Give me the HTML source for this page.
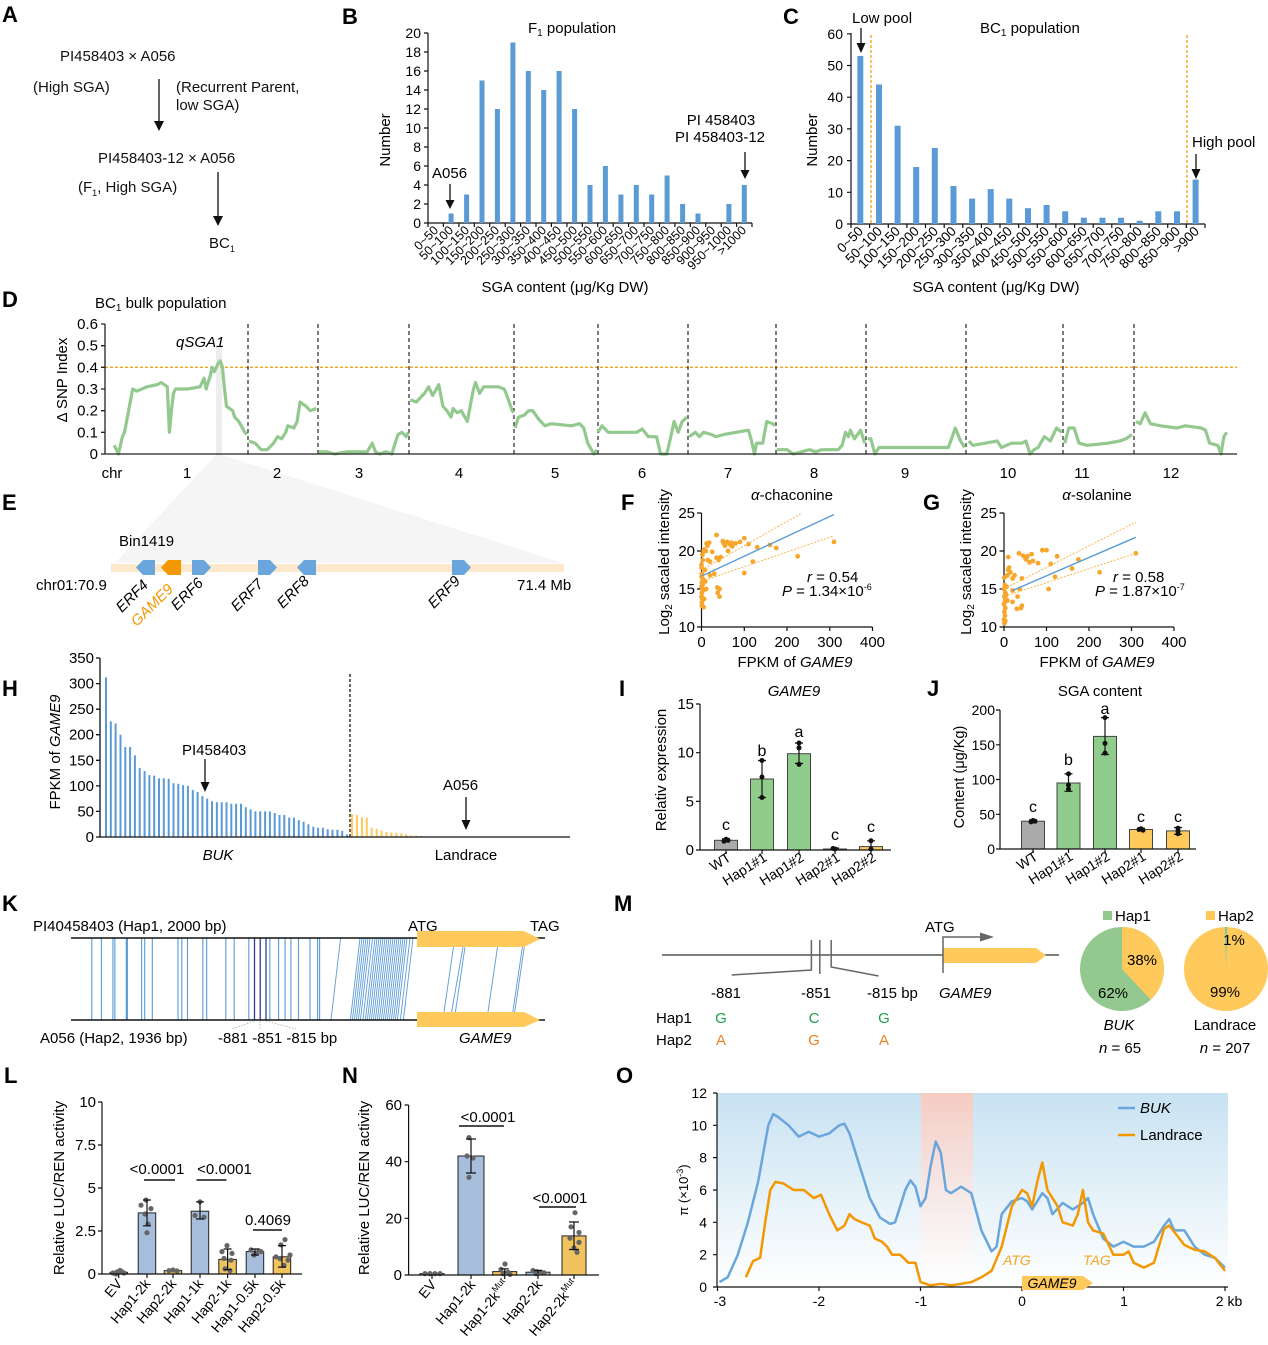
<!DOCTYPE html>
<html><head><meta charset="utf-8"><style>
html,body{margin:0;padding:0;background:#fff;}
svg{display:block;font-family:"Liberation Sans",Arial,sans-serif;}
.b{font-weight:bold;font-size:22px;}
.t{font-size:15px;}
.s{font-size:14px;}
.x{font-size:12.5px;}
.i{font-style:italic;}
</style></head><body>
<svg width="1268" height="1345" viewBox="0 0 1268 1345" xmlns="http://www.w3.org/2000/svg">
<defs>
<linearGradient id="gb" x1="0" y1="0" x2="0" y2="1"><stop offset="0" stop-color="#c8e2f2"/><stop offset="1" stop-color="#ffffff"/></linearGradient>
<linearGradient id="gp" x1="0" y1="0" x2="0" y2="1"><stop offset="0" stop-color="#f6cbc2"/><stop offset="1" stop-color="#ffffff" stop-opacity="0.6"/></linearGradient>
</defs>
<rect width="1268" height="1345" fill="#fff"/>

<!-- Panel letters -->
<g class="b">
<text x="2" y="22">A</text><text x="342" y="24">B</text><text x="783" y="24">C</text>
<text x="2" y="307">D</text><text x="2" y="510">E</text><text x="621" y="510">F</text><text x="923" y="510">G</text>
<text x="2" y="696">H</text><text x="619" y="696">I</text><text x="927" y="696">J</text>
<text x="2" y="911">K</text><text x="614" y="911">M</text>
<text x="4" y="1083">L</text><text x="342" y="1083">N</text><text x="616" y="1083">O</text>
</g>

<!-- Panel A -->
<g class="t" fill="#111">
<text x="60" y="61">PI458403 × A056</text>
<text x="33" y="92">(High SGA)</text>
<text x="176" y="92">(Recurrent Parent,</text>
<text x="176" y="110">low SGA)</text>
<text x="98" y="163">PI458403-12 × A056</text>
<text x="78" y="192">(F<tspan font-size="9" dy="4">1</tspan><tspan dy="-4">, High SGA)</tspan></text>
<text x="209" y="248">BC<tspan font-size="9" dy="4">1</tspan></text>
</g>
<g stroke="#111" stroke-width="1.3"><line x1="159" y1="79" x2="159" y2="124"/><line x1="218" y1="172" x2="218" y2="219"/></g>
<g fill="#111"><polygon points="154,121 164,121 159,131"/><polygon points="213,216 223,216 218,226"/></g>

<!-- Panel B -->
<text x="528" y="33" class="t">F<tspan font-size="10" dy="3">1</tspan><tspan dy="-3"> population</tspan></text>
<g stroke="#111" stroke-width="1.2" fill="none">
<line x1="428" y1="33" x2="428" y2="223"/><line x1="428" y1="223" x2="752" y2="223"/>
<path d="M424 223H428M424 204H428M424 185H428M424 166H428M424 147H428M424 128H428M424 109H428M424 90H428M424 71H428M424 52H428M424 33H428"/>
<path d="M428 223V227M443.4 223V227M458.9 223V227M474.3 223V227M489.7 223V227M505.2 223V227M520.6 223V227M536 223V227M551.4 223V227M566.9 223V227M582.3 223V227M597.7 223V227M613.2 223V227M628.6 223V227M644 223V227M659.5 223V227M674.9 223V227M690.3 223V227M705.7 223V227M721.2 223V227M736.6 223V227M752 223V227"/>
</g>
<g class="s" text-anchor="end"><text x="421" y="228">0</text><text x="421" y="209">2</text><text x="421" y="190">4</text><text x="421" y="171">6</text><text x="421" y="152">8</text><text x="421" y="133">10</text><text x="421" y="114">12</text><text x="421" y="95">14</text><text x="421" y="76">16</text><text x="421" y="57">18</text><text x="421" y="38">20</text></g>
<g fill="#5b9bd5">
<rect x="448.6" y="213.5" width="5" height="9.5"/><rect x="464.1" y="194.5" width="5" height="28.5"/><rect x="479.5" y="80.5" width="5" height="142.5"/><rect x="494.9" y="109" width="5" height="114"/><rect x="510.4" y="42.5" width="5" height="180.5"/><rect x="525.8" y="71" width="5" height="152"/><rect x="541.2" y="90" width="5" height="133"/><rect x="556.6" y="71" width="5" height="152"/><rect x="572.1" y="109" width="5" height="114"/><rect x="587.5" y="185" width="5" height="38"/><rect x="602.9" y="166" width="5" height="57"/><rect x="618.4" y="194.5" width="5" height="28.5"/><rect x="633.8" y="185" width="5" height="38"/><rect x="649.2" y="194.5" width="5" height="28.5"/><rect x="664.6" y="175.5" width="5" height="47.5"/><rect x="680.1" y="204" width="5" height="19"/><rect x="695.5" y="213.5" width="5" height="9.5"/><rect x="726.4" y="204" width="5" height="19"/><rect x="741.8" y="185" width="5" height="38"/>
</g>
<g class="x" text-anchor="end">
<text transform="translate(439,231) rotate(-45)">0~50</text>
<text transform="translate(454,231) rotate(-45)">50~100</text>
<text transform="translate(470,231) rotate(-45)">100~150</text>
<text transform="translate(485,231) rotate(-45)">150~200</text>
<text transform="translate(500,231) rotate(-45)">200~250</text>
<text transform="translate(516,231) rotate(-45)">250~300</text>
<text transform="translate(531,231) rotate(-45)">300~350</text>
<text transform="translate(547,231) rotate(-45)">350~400</text>
<text transform="translate(562,231) rotate(-45)">400~450</text>
<text transform="translate(578,231) rotate(-45)">450~500</text>
<text transform="translate(593,231) rotate(-45)">500~550</text>
<text transform="translate(608,231) rotate(-45)">550~600</text>
<text transform="translate(624,231) rotate(-45)">600~650</text>
<text transform="translate(639,231) rotate(-45)">650~700</text>
<text transform="translate(655,231) rotate(-45)">700~750</text>
<text transform="translate(670,231) rotate(-45)">750~800</text>
<text transform="translate(686,231) rotate(-45)">800~850</text>
<text transform="translate(701,231) rotate(-45)">850~900</text>
<text transform="translate(716,231) rotate(-45)">900~950</text>
<text transform="translate(732,231) rotate(-45)">950~1000</text>
<text transform="translate(747,231) rotate(-45)">&gt;1000</text>
</g>
<text transform="translate(390,140) rotate(-90)" text-anchor="middle" class="t">Number</text>
<text x="565" y="292" text-anchor="middle" class="t">SGA content (μg/Kg DW)</text>
<text x="432" y="178" class="t">A056</text>
<line x1="450" y1="184" x2="450" y2="203" stroke="#111" stroke-width="1.3"/><polygon points="445.5,200 454.5,200 450,209" fill="#111"/>
<text x="721" y="125" text-anchor="middle" class="t">PI 458403</text>
<text x="720" y="142" text-anchor="middle" class="t">PI 458403-12</text>
<line x1="745" y1="152" x2="745" y2="173" stroke="#111" stroke-width="1.3"/><polygon points="740.5,170 749.5,170 745,179" fill="#111"/>

<!-- Panel C -->
<text x="852" y="23" class="t">Low pool</text>
<line x1="861" y1="28" x2="861" y2="45" stroke="#111" stroke-width="1.3"/><polygon points="856.5,43 865.5,43 861,53" fill="#111"/>
<text x="980" y="33" class="t">BC<tspan font-size="10" dy="3">1</tspan><tspan dy="-3"> population</tspan></text>
<text x="1192" y="147" class="t">High pool</text>
<line x1="1196" y1="154" x2="1196" y2="171" stroke="#111" stroke-width="1.3"/><polygon points="1191.5,169 1200.5,169 1196,179" fill="#111"/>
<g stroke="#f5a623" stroke-width="1.4" stroke-dasharray="3,2"><line x1="871" y1="35" x2="871" y2="224"/><line x1="1187" y1="35" x2="1187" y2="224"/></g>
<g stroke="#111" stroke-width="1.2" fill="none">
<line x1="851" y1="33" x2="851" y2="224"/><line x1="851" y1="224" x2="1205" y2="224"/>
<path d="M847 224H851M847 192.3H851M847 160.6H851M847 128.9H851M847 97.2H851M847 65.5H851M847 33.8H851"/>
<path d="M851 224V228M869.6 224V228M888.3 224V228M906.9 224V228M925.5 224V228M944.2 224V228M962.8 224V228M981.4 224V228M1000 224V228M1018.7 224V228M1037.3 224V228M1055.9 224V228M1074.6 224V228M1093.2 224V228M1111.8 224V228M1130.4 224V228M1149.1 224V228M1167.7 224V228M1186.3 224V228M1205 224V228"/>
</g>
<g class="s" text-anchor="end"><text x="843" y="229">0</text><text x="843" y="197.3">10</text><text x="843" y="165.6">20</text><text x="843" y="133.9">30</text><text x="843" y="102.2">40</text><text x="843" y="70.5">50</text><text x="843" y="38.8">60</text></g>
<g fill="#5b9bd5">
<rect x="857.3" y="56" width="6" height="168"/><rect x="876" y="84.5" width="6" height="139.5"/><rect x="894.6" y="125.7" width="6" height="98.3"/><rect x="913.2" y="167" width="6" height="57"/><rect x="931.8" y="148" width="6" height="76"/><rect x="950.5" y="186" width="6" height="38"/><rect x="969.1" y="198.6" width="6" height="25.4"/><rect x="987.7" y="189.1" width="6" height="34.9"/><rect x="1006.3" y="198.6" width="6" height="25.4"/><rect x="1025" y="208.2" width="6" height="15.8"/><rect x="1043.6" y="205" width="6" height="19"/><rect x="1062.2" y="211.3" width="6" height="12.7"/><rect x="1080.8" y="217.7" width="6" height="6.3"/><rect x="1099.5" y="217.7" width="6" height="6.3"/><rect x="1118.1" y="217.7" width="6" height="6.3"/><rect x="1136.7" y="220.8" width="6" height="3.2"/><rect x="1155.3" y="211.3" width="6" height="12.7"/><rect x="1174" y="211.3" width="6" height="12.7"/><rect x="1192.6" y="179.6" width="6" height="44.4"/>
</g>
<g font-size="13.5" text-anchor="end">
<text transform="translate(864,232) rotate(-45)">0~50</text>
<text transform="translate(883,232) rotate(-45)">50~100</text>
<text transform="translate(901,232) rotate(-45)">100~150</text>
<text transform="translate(920,232) rotate(-45)">150~200</text>
<text transform="translate(939,232) rotate(-45)">200~250</text>
<text transform="translate(957,232) rotate(-45)">250~300</text>
<text transform="translate(976,232) rotate(-45)">300~350</text>
<text transform="translate(994,232) rotate(-45)">350~400</text>
<text transform="translate(1013,232) rotate(-45)">400~450</text>
<text transform="translate(1032,232) rotate(-45)">450~500</text>
<text transform="translate(1050,232) rotate(-45)">500~550</text>
<text transform="translate(1069,232) rotate(-45)">550~600</text>
<text transform="translate(1088,232) rotate(-45)">600~650</text>
<text transform="translate(1106,232) rotate(-45)">650~700</text>
<text transform="translate(1125,232) rotate(-45)">700~750</text>
<text transform="translate(1143,232) rotate(-45)">750~800</text>
<text transform="translate(1162,232) rotate(-45)">800~850</text>
<text transform="translate(1181,232) rotate(-45)">850~900</text>
<text transform="translate(1200,232) rotate(-45)">&gt;900</text>
</g>
<text transform="translate(817,140) rotate(-90)" text-anchor="middle" class="t">Number</text>
<text x="996" y="292" text-anchor="middle" class="t">SGA content (μg/Kg DW)</text>

<!-- Panel D -->
<polygon points="216,455 222,455 563,563 115,563" fill="#f5f5f5"/>
<rect x="216" y="346" width="6" height="109" fill="#eeeeee"/>
<text x="95" y="308" class="t">BC<tspan font-size="10" dy="3">1</tspan><tspan dy="-3"> bulk population</tspan></text>
<text x="176" y="347" class="t i">qSGA1</text>
<text transform="translate(67,380) rotate(-90)" text-anchor="middle" class="t">Δ SNP Index</text>
<line x1="105" y1="367.3" x2="1237" y2="367.3" stroke="#f5a31a" stroke-width="1.3" stroke-dasharray="3,2"/>
<g stroke="#111" stroke-width="1.1" stroke-dasharray="4,3">
<line x1="248" y1="324" x2="248" y2="454"/><line x1="318" y1="324" x2="318" y2="454"/><line x1="409" y1="324" x2="409" y2="454"/><line x1="514" y1="324" x2="514" y2="454"/><line x1="598" y1="324" x2="598" y2="454"/><line x1="688" y1="324" x2="688" y2="454"/><line x1="776" y1="324" x2="776" y2="454"/><line x1="866" y1="324" x2="866" y2="454"/><line x1="966" y1="324" x2="966" y2="454"/><line x1="1063" y1="324" x2="1063" y2="454"/><line x1="1134" y1="324" x2="1134" y2="454"/>
</g>
<g fill="none" stroke="#93c98e" stroke-width="3.2" stroke-linejoin="round">
<polyline points="114.3,445.3 118.4,454 122.4,436.7 124.5,432.3 128.6,410.7 132.7,389 136.7,391.2 146.9,386.8 157.1,384.7 161.2,382.5 167.3,386.8 169.4,432.3 171.4,410.7 173.5,393.3 175.5,389 187.8,389 200,386.8 204.1,378.2 206.1,389 210.2,376 212.2,367.3 214.3,371.7 218.4,363 220.4,360.8 222.4,367.3 224.5,389 226.5,406.3 232.7,410.7 234.7,417.2 238.8,421.5 244.9,432.3 246.9,434.5"/>
<polyline points="249,441 255.1,443.2 261.2,449.7 267.3,449.7 273.5,443.2 277.6,436.7 281.6,438.8 285.7,432.3 287.8,425.8 293.9,428 297.1,421.5 300,402 306.1,406.3 310.2,410.7 316.3,408.5"/>
<polyline points="318.4,451.8 326.5,451.8 334.7,454 346.9,451.8 367.3,451.8 372.2,443.2 375.5,451.8 379.6,454 385.7,451.8 391.8,454 395.1,443.2 398,434.5 402,432.3 406.1,436.7 408.2,432.3"/>
<polyline points="410.2,399.8 416.3,402 420.4,397.7 424.5,393.3 428.6,386.8 432.7,395.5 438.8,384.7 442.9,406.3 446.9,410.7 451,417.2 453.1,408.5 457.1,412.8 461.2,410.7 467.3,421.5 471.4,399.8 473.5,389 475.5,382.5 479.6,393.3 483.7,386.8 498,386.8 504.1,389 506.1,393.3 512.2,410.7 513.5,412.8"/>
<polyline points="515.1,428 518.4,417.2 524.5,415 528.6,410.7 532.7,410.7 538.8,419.3 544.9,425.8 551,423.7 571.4,425.8 579.6,423.7 583.7,428 587.8,443.2 593.9,454 596.7,449.7"/>
<polyline points="598,432.3 602,425.8 608.2,432.3 636.7,432.3 642.2,429 648.4,436.7 656.5,436.7 660.6,454 666.7,454 670.8,436.7 674.1,421.5 678.2,432.3 682.2,421.5 687.1,417.2"/>
<polyline points="689.2,436.7 695.3,432.3 699.4,436.7 703.5,432.3 711.6,434.5 715.7,436.7 723.9,434.5 736.1,432.3 748.4,430.2 751.6,441 754.5,454 756.5,443.2 762.7,443.2 766.7,421.5 772.9,423.7 774.9,425.8"/>
<polyline points="776.9,449.7 787.1,449.7 793.3,454 801.4,451.8 809.6,449.7 815.7,451.8 821.8,449.7 838.2,449.7 842.2,445.3 845.5,432.3 848.4,436.7 850.4,430.2 854.5,438.8 860.6,430.2 864.7,443.2"/>
<polyline points="867.6,438.8 870.8,438.8 874.9,454 879,447.5 915.7,447.5 948.4,447.5 955.3,428 960.6,441 964.7,447.5"/>
<polyline points="968.8,441 972.9,445.3 985.1,443.2 997.3,441 1001.4,447.5 1011.6,443.2 1021.8,443.2 1025.9,441 1030,454 1034.1,449.7 1038.2,447.5 1044.3,436.7 1050.4,441 1056.5,428 1061.8,432.3"/>
<polyline points="1064.7,443.2 1068.8,428 1074.1,428 1079,443.2 1087.1,445.3 1107.6,443.2 1119.8,441 1125.9,438.8 1132,434.5"/>
<polyline points="1136.1,421.5 1140.2,423.7 1145.1,412.8 1150.4,423.7 1160.6,425.8 1176.9,428 1185.1,425.8 1201.4,428 1205.5,430.2 1209.6,443.2 1217.8,445.3 1221,454 1223.9,436.7 1226.7,432.3"/>
</g>
<g stroke="#222" stroke-width="1.3" fill="none">
<line x1="105" y1="324" x2="105" y2="454"/><line x1="105" y1="454" x2="1237" y2="454"/>
<path d="M101 454H105M101 432.3H105M101 410.7H105M101 389H105M101 367.3H105M101 345.7H105M101 324H105"/>
</g>
<g class="t" text-anchor="end"><text x="98" y="459">0</text><text x="98" y="437.3">0.1</text><text x="98" y="415.7">0.2</text><text x="98" y="394">0.3</text><text x="98" y="372.3">0.4</text><text x="98" y="350.7">0.5</text><text x="98" y="329">0.6</text></g>
<g class="t" text-anchor="middle">
<text x="112" y="478">chr</text><text x="187" y="478">1</text><text x="277" y="478">2</text><text x="359" y="478">3</text><text x="459" y="478">4</text><text x="555" y="478">5</text><text x="642" y="478">6</text><text x="728" y="478">7</text><text x="814" y="478">8</text><text x="905" y="478">9</text><text x="1008" y="478">10</text><text x="1082" y="478">11</text><text x="1171" y="478">12</text>
</g>

<!-- Panel E -->
<text x="119" y="546" class="t">Bin1419</text>
<rect x="111" y="564" width="453" height="8" fill="#fde8cb"/>
<g fill="#6aa6dc">
<polygon points="136,567.5 143,560 155,560 155,575 143,575"/>
<polygon points="192,560 204,560 211,567.5 204,575 192,575"/>
<polygon points="258,560 270,560 277,567.5 270,575 258,575"/>
<polygon points="297,567.5 304,560 316,560 316,575 304,575"/>
<polygon points="452,560 464,560 471,567.5 464,575 452,575"/>
</g>
<polygon points="161,567.5 168,560 181,560 181,575 168,575" fill="#f39800"/>
<text x="36" y="590" class="t">chr01:70.9</text>
<text x="517" y="590" class="t">71.4 Mb</text>
<g class="t i" text-anchor="end" font-size="16">
<text transform="translate(149,586) rotate(-45)">ERF4</text>
<text transform="translate(174,590) rotate(-45)" fill="#f39800">GAME9</text>
<text transform="translate(204,584) rotate(-45)">ERF6</text>
<text transform="translate(264,585) rotate(-45)">ERF7</text>
<text transform="translate(310,582) rotate(-45)">ERF8</text>
<text transform="translate(461,582) rotate(-45)">ERF9</text>
</g>

<!-- Panel F -->
<text x="792" y="500" text-anchor="middle" class="t"><tspan class="i">α</tspan>-chaconine</text>
<text transform="translate(669,562) rotate(-90)" text-anchor="middle" class="t">Log<tspan font-size="10" dy="3">2</tspan><tspan dy="-3"> sacaled intensity</tspan></text>
<text x="795" y="667" text-anchor="middle" class="t">FPKM of <tspan class="i">GAME9</tspan></text>
<g stroke="#111" stroke-width="1.2" fill="none">
<line x1="701.5" y1="513" x2="701.5" y2="627"/><line x1="701.5" y1="627" x2="872.5" y2="627"/>
<path d="M697 627H701.5M697 589H701.5M697 551H701.5M697 513H701.5M701.5 627V631M744.3 627V631M787 627V631M829.8 627V631M872.5 627V631"/>
</g>
<g class="t" text-anchor="end"><text x="695" y="632">10</text><text x="695" y="594">15</text><text x="695" y="556">20</text><text x="695" y="518">25</text></g>
<g class="t" text-anchor="middle"><text x="701.5" y="647">0</text><text x="744.3" y="647">100</text><text x="787" y="647">200</text><text x="829.8" y="647">300</text><text x="872.5" y="647">400</text></g>
<g fill="#f8a62b">
<circle cx="701.9" cy="605.7" r="2.4"/><circle cx="701.9" cy="602.7" r="2.4"/><circle cx="702.4" cy="599.6" r="2.4"/><circle cx="701.5" cy="596.6" r="2.4"/><circle cx="701.9" cy="592.8" r="2.4"/><circle cx="702.4" cy="589" r="2.4"/><circle cx="701.5" cy="586.7" r="2.4"/><circle cx="702.8" cy="584.4" r="2.4"/><circle cx="701.9" cy="582.9" r="2.4"/><circle cx="702.4" cy="581.4" r="2.4"/><circle cx="703.2" cy="579.1" r="2.4"/><circle cx="701.5" cy="576.8" r="2.4"/><circle cx="701.9" cy="573.8" r="2.4"/><circle cx="701.5" cy="564.7" r="2.4"/><circle cx="702.8" cy="560.1" r="2.4"/><circle cx="702.4" cy="554.8" r="2.4"/><circle cx="703.6" cy="551" r="2.4"/><circle cx="704.5" cy="549.5" r="2.4"/><circle cx="705.8" cy="551" r="2.4"/><circle cx="706.6" cy="543.4" r="2.4"/><circle cx="707.5" cy="545.7" r="2.4"/><circle cx="704.9" cy="570" r="2.4"/><circle cx="705.3" cy="581.4" r="2.4"/><circle cx="706.2" cy="589" r="2.4"/><circle cx="704.1" cy="589.8" r="2.4"/><circle cx="704.1" cy="598.9" r="2.4"/><circle cx="707.9" cy="560.1" r="2.4"/><circle cx="710" cy="561.6" r="2.4"/><circle cx="709.2" cy="542.6" r="2.4"/><circle cx="712.2" cy="551.8" r="2.4"/><circle cx="714.3" cy="573.8" r="2.4"/><circle cx="716.5" cy="535" r="2.4"/><circle cx="716.5" cy="557.8" r="2.4"/><circle cx="717.3" cy="587.5" r="2.4"/><circle cx="717.7" cy="592.8" r="2.4"/><circle cx="718.6" cy="560.1" r="2.4"/><circle cx="719.5" cy="589" r="2.4"/><circle cx="719.5" cy="596.6" r="2.4"/><circle cx="720.7" cy="557.1" r="2.4"/><circle cx="722.9" cy="541.1" r="2.4"/><circle cx="723.7" cy="543.4" r="2.4"/><circle cx="725" cy="545.7" r="2.4"/><circle cx="727.2" cy="541.9" r="2.4"/><circle cx="728" cy="551" r="2.4"/><circle cx="729.3" cy="543.4" r="2.4"/><circle cx="730.6" cy="544.9" r="2.4"/><circle cx="731.4" cy="542.6" r="2.4"/><circle cx="732.3" cy="546.4" r="2.4"/><circle cx="735.7" cy="543.4" r="2.4"/><circle cx="740" cy="541.9" r="2.4"/><circle cx="744.3" cy="538.1" r="2.4"/><circle cx="744.3" cy="573" r="2.4"/><circle cx="748.5" cy="544.2" r="2.4"/><circle cx="752.8" cy="561.6" r="2.4"/><circle cx="757.1" cy="547.2" r="2.4"/><circle cx="769.9" cy="544.9" r="2.4"/><circle cx="776.3" cy="548" r="2.4"/><circle cx="797.7" cy="556.3" r="2.4"/><circle cx="834" cy="541.9" r="2.4"/><circle cx="703.6" cy="607.2" r="2.4"/><circle cx="701.5" cy="567.7" r="2.4"/><circle cx="710" cy="575.3" r="2.4"/>
</g>
<g stroke="#f8b44a" stroke-width="1" stroke-dasharray="2,1.5"><line x1="701.5" y1="570" x2="802" y2="513"/><line x1="701.5" y1="581.4" x2="834" y2="535.8"/></g>
<line x1="701.5" y1="576.1" x2="834" y2="514.5" stroke="#5b9bd5" stroke-width="1.4"/>
<text x="807" y="582" class="t"><tspan class="i">r</tspan> = 0.54</text>
<text x="782" y="596" class="t"><tspan class="i">P</tspan> = 1.34×10<tspan font-size="9" dy="-6">-6</tspan></text>

<!-- Panel G -->
<text x="1097" y="500" text-anchor="middle" class="t"><tspan class="i">α</tspan>-solanine</text>
<text transform="translate(971,562) rotate(-90)" text-anchor="middle" class="t">Log<tspan font-size="10" dy="3">2</tspan><tspan dy="-3"> sacaled intensity</tspan></text>
<text x="1097" y="667" text-anchor="middle" class="t">FPKM of <tspan class="i">GAME9</tspan></text>
<g stroke="#111" stroke-width="1.2" fill="none">
<line x1="1004" y1="513" x2="1004" y2="627"/><line x1="1004" y1="627" x2="1174" y2="627"/>
<path d="M999.5 627H1004M999.5 589H1004M999.5 551H1004M999.5 513H1004M1004 627V631M1046.5 627V631M1089 627V631M1131.5 627V631M1174 627V631"/>
</g>
<g class="t" text-anchor="end"><text x="997" y="632">10</text><text x="997" y="594">15</text><text x="997" y="556">20</text><text x="997" y="518">25</text></g>
<g class="t" text-anchor="middle"><text x="1004" y="647">0</text><text x="1046.5" y="647">100</text><text x="1089" y="647">200</text><text x="1131.5" y="647">300</text><text x="1174" y="647">400</text></g>
<g fill="#f8a62b">
<circle cx="1004.4" cy="623.2" r="2.4"/><circle cx="1004" cy="619.4" r="2.4"/><circle cx="1004.9" cy="615.6" r="2.4"/><circle cx="1004.4" cy="611.8" r="2.4"/><circle cx="1005.3" cy="608" r="2.4"/><circle cx="1004" cy="604.2" r="2.4"/><circle cx="1004.9" cy="601.9" r="2.4"/><circle cx="1005.7" cy="599.6" r="2.4"/><circle cx="1004.4" cy="596.6" r="2.4"/><circle cx="1005.3" cy="592.8" r="2.4"/><circle cx="1004" cy="589" r="2.4"/><circle cx="1004.9" cy="585.2" r="2.4"/><circle cx="1004.4" cy="577.6" r="2.4"/><circle cx="1008.3" cy="570" r="2.4"/><circle cx="1008.3" cy="557.1" r="2.4"/><circle cx="1009.1" cy="567.7" r="2.4"/><circle cx="1007.4" cy="575.3" r="2.4"/><circle cx="1007.4" cy="600.4" r="2.4"/><circle cx="1010.4" cy="572.3" r="2.4"/><circle cx="1012.5" cy="578.4" r="2.4"/><circle cx="1012.5" cy="590.5" r="2.4"/><circle cx="1012.5" cy="601.9" r="2.4"/><circle cx="1014.6" cy="575.3" r="2.4"/><circle cx="1016.8" cy="608.8" r="2.4"/><circle cx="1017.6" cy="596.6" r="2.4"/><circle cx="1018.9" cy="553.3" r="2.4"/><circle cx="1019.7" cy="589" r="2.4"/><circle cx="1021" cy="608" r="2.4"/><circle cx="1021.9" cy="605.7" r="2.4"/><circle cx="1021.9" cy="578.4" r="2.4"/><circle cx="1023.1" cy="555.6" r="2.4"/><circle cx="1025.3" cy="557.8" r="2.4"/><circle cx="1026.1" cy="559.4" r="2.4"/><circle cx="1027.4" cy="556.3" r="2.4"/><circle cx="1029.5" cy="562.4" r="2.4"/><circle cx="1031.6" cy="554.1" r="2.4"/><circle cx="1032.9" cy="560.9" r="2.4"/><circle cx="1038" cy="563.2" r="2.4"/><circle cx="1042.3" cy="550.2" r="2.4"/><circle cx="1046.5" cy="550.2" r="2.4"/><circle cx="1048.6" cy="589" r="2.4"/><circle cx="1050.8" cy="563.9" r="2.4"/><circle cx="1055" cy="576.8" r="2.4"/><circle cx="1057.1" cy="556.3" r="2.4"/><circle cx="1072" cy="568.5" r="2.4"/><circle cx="1078.4" cy="559.4" r="2.4"/><circle cx="1099.6" cy="572.3" r="2.4"/><circle cx="1135.8" cy="553.3" r="2.4"/><circle cx="1006.1" cy="595.1" r="2.4"/><circle cx="1006.6" cy="586.7" r="2.4"/><circle cx="1005.3" cy="620.9" r="2.4"/>
</g>
<g stroke="#f8b44a" stroke-width="1" stroke-dasharray="2,1.5"><line x1="1004" y1="589" x2="1135.8" y2="522.1"/><line x1="1004" y1="596.6" x2="1135.8" y2="553.3"/></g>
<line x1="1012.5" y1="590.5" x2="1135.8" y2="537.3" stroke="#5b9bd5" stroke-width="1.4"/>
<text x="1113" y="582" class="t"><tspan class="i">r</tspan> = 0.58</text>
<text x="1095" y="596" class="t"><tspan class="i">P</tspan> = 1.87×10<tspan font-size="9" dy="-6">-7</tspan></text>

<!-- Panel H -->
<text transform="translate(60,752) rotate(-90)" text-anchor="middle" class="t">FPKM of <tspan class="i">GAME9</tspan></text>
<path stroke="#5b9bd5" stroke-width="2" fill="none" d="M106 677.4V837M110.8 721.4V837M115.6 723.5V837M120.5 734.7V837M125.3 747V837M130.1 747V837M134.9 755.2V837M139.7 768V837M144.6 771V837M149.4 775.1V837M154.2 775.6V837M159 778.2V837M163.8 778.2V837M168.7 778.7V837M173.5 783.3V837M178.3 783.8V837M183.1 785.3V837M187.9 785.9V837M192.8 790V837M197.6 792V837M202.4 796.1V837M207.2 798.6V837M212 801.2V837M216.9 802.2V837M221.7 802.2V837M226.5 802.2V837M231.3 803.8V837M236.1 803.8V837M241 803.8V837M245.8 807.3V837M250.6 809.4V837M255.4 811.4V837M260.2 811.4V837M265.1 811.4V837M269.9 811.4V837M274.7 813V837M279.5 815V837M284.3 815V837M289.2 817.6V837M294 817.6V837M298.8 820.1V837M303.6 821.7V837M308.4 824.2V837M313.3 826.8V837M318.1 827.8V837M322.9 827.8V837M327.7 829.3V837M332.5 829.8V837M337.4 829.8V837M342.2 830.9V837M347 834.4V837"/>
<path stroke="#ffc95c" stroke-width="2" fill="none" d="M352 814V837M356.9 815V837M361.9 817.1V837M366.8 817.6V837M371.7 827.8V837M376.7 828.8V837M381.6 830.4V837M386.5 831.9V837M391.4 832.4V837M396.4 832.9V837M401.3 833.4V837M406.2 834.4V837M411.2 835.5V837M416.1 835.5V837M421 836V837"/>
<line x1="350" y1="674" x2="350" y2="837" stroke="#111" stroke-width="1.3" stroke-dasharray="3,2"/>
<g stroke="#111" stroke-width="1.3" fill="none">
<line x1="100" y1="658" x2="100" y2="837"/><line x1="100" y1="837" x2="570" y2="837"/>
<path d="M96 837H100M96 811.4H100M96 785.9H100M96 760.3H100M96 734.7H100M96 709.2H100M96 683.6H100M96 658H100"/>
</g>
<g class="t" text-anchor="end"><text x="94" y="842">0</text><text x="94" y="816.4">50</text><text x="94" y="790.9">100</text><text x="94" y="765.3">150</text><text x="94" y="739.7">200</text><text x="94" y="714.2">250</text><text x="94" y="688.6">300</text><text x="94" y="663">350</text></g>
<text x="182" y="755" class="t">PI458403</text>
<line x1="205" y1="759" x2="205" y2="784" stroke="#111" stroke-width="1.3"/><polygon points="200.5,782 209.5,782 205,792" fill="#111"/>
<text x="443" y="790" class="t">A056</text>
<line x1="466" y1="797" x2="466" y2="822" stroke="#111" stroke-width="1.3"/><polygon points="461.5,820 470.5,820 466,830" fill="#111"/>
<text x="218" y="860" text-anchor="middle" class="t i">BUK</text>
<text x="466" y="860" text-anchor="middle" class="t">Landrace</text>

<!-- Panel I -->
<text x="794" y="696" text-anchor="middle" class="t i">GAME9</text>
<text transform="translate(666,770) rotate(-90)" text-anchor="middle" class="t">Relativ expression</text>
<g stroke="#444" stroke-width="1">
<rect x="714.5" y="840.3" width="23" height="9.7" fill="#aaaaaa"/>
<rect x="750.5" y="779" width="23" height="71" fill="#90cd8c"/>
<rect x="787.5" y="753.7" width="23" height="96.3" fill="#90cd8c"/>
<rect x="823.5" y="849" width="23" height="1" fill="#ffc95c"/>
<rect x="859.5" y="846.6" width="23" height="3.4" fill="#ffc95c"/>
</g>
<g stroke="#111" stroke-width="1.2" fill="none">
<path d="M726 838.8V841.7M722 838.8H730M722 841.7H730"/>
<path d="M762 760.5V797.5M758 760.5H766M758 797.5H766"/>
<path d="M799 743V763.4M795 743H803M795 763.4H803"/>
<path d="M835 848V850M831 848H839"/>
<path d="M871 840.8V850M867 840.8H875"/>
<line x1="700" y1="704" x2="700" y2="850"/><line x1="700" y1="850" x2="891" y2="850"/>
<path d="M696 850H700M696 801.4H700M696 752.7H700M696 704H700M726 850V854M762 850V854M799 850V854M835 850V854M871 850V854"/>
</g>
<g fill="#111"><circle cx="726" cy="839.3" r="2.5"/><circle cx="724" cy="841.2" r="2.5"/><circle cx="728" cy="840.3" r="2.5"/><circle cx="762" cy="760.5" r="2.5"/><circle cx="762" cy="777" r="2.5"/><circle cx="762" cy="797.5" r="2.5"/><circle cx="799" cy="743" r="2.5"/><circle cx="799" cy="747.8" r="2.5"/><circle cx="799" cy="764.4" r="2.5"/><circle cx="835" cy="849" r="2.5"/><circle cx="833" cy="848.5" r="2.5"/><circle cx="871" cy="840.8" r="2.5"/><circle cx="871" cy="849" r="2.5"/></g>
<g class="t" text-anchor="end"><text x="694" y="855">0</text><text x="694" y="806.4">5</text><text x="694" y="757.7">10</text><text x="694" y="709">15</text></g>
<g font-size="16" text-anchor="middle"><text x="726" y="830">c</text><text x="762" y="756">b</text><text x="799" y="737">a</text><text x="835" y="840">c</text><text x="871" y="832">c</text></g>
<g class="s" text-anchor="end">
<text transform="translate(732,860) rotate(-32)">WT</text>
<text transform="translate(768,860) rotate(-32)">Hap1#1</text>
<text transform="translate(805,860) rotate(-32)">Hap1#2</text>
<text transform="translate(841,860) rotate(-32)">Hap2#1</text>
<text transform="translate(877,860) rotate(-32)">Hap2#2</text>
</g>

<!-- Panel J -->
<text x="1100" y="696" text-anchor="middle" class="t">SGA content</text>
<text transform="translate(964,777) rotate(-90)" text-anchor="middle" font-size="14.5">Content (μg/Kg)</text>
<g stroke="#444" stroke-width="1">
<rect x="1021.5" y="821.2" width="23" height="27.8" fill="#aaaaaa"/>
<rect x="1057" y="783" width="23" height="66" fill="#90cd8c"/>
<rect x="1093.5" y="736.4" width="23" height="112.6" fill="#90cd8c"/>
<rect x="1129.5" y="829.5" width="23" height="19.5" fill="#ffc95c"/>
<rect x="1166.5" y="830.9" width="23" height="18.1" fill="#ffc95c"/>
</g>
<g stroke="#111" stroke-width="1.2" fill="none">
<path d="M1033 819.8V822.6M1029 819.8H1037M1029 822.6H1037"/>
<path d="M1068.5 773.9V791.3M1064.5 773.9H1072.5M1064.5 791.3H1072.5"/>
<path d="M1105 717.6V754.5M1101 717.6H1109M1101 754.5H1109"/>
<path d="M1141 828.2V830.9M1137 828.2H1145M1137 830.9H1145"/>
<path d="M1178 827.5V834.4M1174 827.5H1182M1174 834.4H1182"/>
<line x1="1000" y1="710" x2="1000" y2="849"/><line x1="1000" y1="849" x2="1196" y2="849"/>
<path d="M996 849H1000M996 814.3H1000M996 779.5H1000M996 744.8H1000M996 710H1000M1033 849V853M1068.5 849V853M1105 849V853M1141 849V853M1178 849V853"/>
</g>
<g fill="#111"><circle cx="1033" cy="820.5" r="2.5"/><circle cx="1031" cy="821.9" r="2.5"/><circle cx="1035" cy="821.2" r="2.5"/><circle cx="1068.5" cy="773.9" r="2.5"/><circle cx="1068.5" cy="785" r="2.5"/><circle cx="1068.5" cy="789.2" r="2.5"/><circle cx="1105" cy="717.6" r="2.5"/><circle cx="1105" cy="743.4" r="2.5"/><circle cx="1105" cy="753.1" r="2.5"/><circle cx="1141" cy="828.8" r="2.5"/><circle cx="1139" cy="829.5" r="2.5"/><circle cx="1143" cy="830.2" r="2.5"/><circle cx="1178" cy="828.2" r="2.5"/><circle cx="1178" cy="830.9" r="2.5"/><circle cx="1178" cy="833.7" r="2.5"/></g>
<g class="s" text-anchor="end"><text x="995" y="854">0</text><text x="995" y="819.3">50</text><text x="995" y="784.5">100</text><text x="995" y="749.8">150</text><text x="995" y="715">200</text></g>
<g font-size="16" text-anchor="middle"><text x="1033" y="812">c</text><text x="1068.5" y="765">b</text><text x="1105" y="714">a</text><text x="1141" y="822">c</text><text x="1178" y="822">c</text></g>
<g class="s" text-anchor="end">
<text transform="translate(1039,859) rotate(-32)">WT</text>
<text transform="translate(1074,859) rotate(-32)">Hap1#1</text>
<text transform="translate(1111,859) rotate(-32)">Hap1#2</text>
<text transform="translate(1147,859) rotate(-32)">Hap2#1</text>
<text transform="translate(1184,859) rotate(-32)">Hap2#2</text>
</g>

<!-- Panel K -->
<text x="33" y="931" class="t">PI40458403 (Hap1, 2000 bp)</text>
<text x="408" y="931" class="t">ATG</text>
<text x="530" y="931" class="t">TAG</text>
<text x="40" y="1043" class="t">A056 (Hap2, 1936 bp)</text>
<text x="218" y="1043" class="t">-881 -851 -815 bp</text>
<text x="459" y="1043" class="t i">GAME9</text>
<g stroke="#5b9bd5" stroke-width="1.1">
<path d="M91.8 938V1020M101.4 938V1020M112.9 938V1020M114.8 938V1020M126.3 938V1020M127.4 938V1020M141.6 938V1020M144.7 938V1020M152.3 938V1020M178 938V1020M181.8 938V1020M187.5 938V1020M202.8 938V1020M206.7 938V1020M225.8 938V1020M234.2 938V1020M248.8 938V1020M269.8 938V1020M278.6 938V1020M285.1 938V1020M290.9 938V1020M298.5 938V1020M310 938V1020M317.6 938V1020M319.6 938V1020"/>
</g>
<g stroke="#5b9bd5" stroke-width="0.9">
<path d="M340.6 938L331 1020M360 938L350.4 1020M362 938L352.4 1020M364 938L354.4 1020M366 938L356.4 1020M368 938L358.4 1020M370 938L360.4 1020M372.5 938L362.9 1020M375 938L365.4 1020M377 938L367.4 1020M379 938L369.4 1020M381 938L371.4 1020M383 938L373.4 1020M385 938L375.4 1020M387 938L377.4 1020M389 938L379.4 1020M391 938L381.4 1020M393 938L383.4 1020M395 938L385.4 1020M397 938L387.4 1020M399 938L389.4 1020M401 938L391.4 1020M403 938L393.4 1020M405 938L395.4 1020M407 938L397.4 1020M410 938L400.4 1020M413 938L403.4 1020"/>
<path d="M453.5 947L444 1012M463 947L451.6 1012M465 947L455.4 1012M497.5 947L488 1012M522.4 947L512.8 1012M524.3 947L514.7 1012"/>
</g>
<g stroke="#2e3d9e" stroke-width="1.3"><path d="M254.5 938V1020M260.2 938V1020M266 938V1020"/></g>
<g stroke="#111" stroke-width="1.5"><line x1="71" y1="938" x2="545" y2="938"/><line x1="71" y1="1020" x2="545" y2="1020"/></g>
<g fill="#ffc95c"><polygon points="417,931 524,931 540,939 524,947 417,947"/><polygon points="417,1012 524,1012 540,1020 524,1027 417,1027"/></g>
<g stroke="#aaa" stroke-width="0.8" stroke-dasharray="1.5,1.5" fill="none"><path d="M254 1021L232 1029M260 1021V1029M266 1021L296 1029"/></g>

<!-- Panel M -->
<line x1="662" y1="955" x2="1059" y2="955" stroke="#333" stroke-width="1.2"/>
<polygon points="943,948 1036,948 1046,955.5 1036,963 943,963" fill="#ffc95c"/>
<g stroke="#666" stroke-width="1.5" fill="none">
<path d="M811.4 940V970L731.7 975M819.8 940V974M831.2 940V967L878.6 976"/>
<path d="M943 973V937H984"/>
</g>
<polygon points="980,932.5 994,937 980,941.5" fill="#666"/>
<text x="925" y="932" class="t">ATG</text>
<text x="711" y="998" class="t">-881</text>
<text x="801" y="998" class="t">-851</text>
<text x="867" y="998" class="t">-815 bp</text>
<text x="939" y="998" class="t i">GAME9</text>
<text x="656" y="1023" class="t">Hap1</text>
<text x="656" y="1045" class="t">Hap2</text>
<g class="t" text-anchor="middle" fill="#1e9e4a"><text x="721" y="1023">G</text><text x="814" y="1023">C</text><text x="884" y="1023">G</text></g>
<g class="t" text-anchor="middle" fill="#f07f1e"><text x="721" y="1045">A</text><text x="814" y="1045">G</text><text x="884" y="1045">A</text></g>
<rect x="1103" y="911" width="9" height="9" fill="#93c98e"/><text x="1115" y="921" class="t">Hap1</text>
<rect x="1206" y="911" width="9" height="9" fill="#ffc95c"/><text x="1218" y="921" class="t">Hap2</text>
<circle cx="1122" cy="969" r="42" fill="#93c98e"/>
<path d="M1122 969L1122 927A42 42 0 0 1 1150.7 999.6Z" fill="#ffc95c"/>
<circle cx="1226" cy="969" r="42" fill="#ffc95c"/>
<path d="M1226 969L1224.7 927A42 42 0 0 1 1227.3 927Z" fill="#93c98e"/>
<g class="t" text-anchor="middle"><text x="1142" y="965">38%</text><text x="1113" y="998">62%</text><text x="1234" y="945">1%</text><text x="1225" y="997">99%</text></g>
<text x="1119" y="1030" text-anchor="middle" class="t i">BUK</text>
<text x="1225" y="1030" text-anchor="middle" class="t">Landrace</text>
<text x="1120" y="1053" text-anchor="middle" class="t"><tspan class="i">n</tspan> = 65</text>
<text x="1225" y="1053" text-anchor="middle" class="t"><tspan class="i">n</tspan> = 207</text>

<!-- Panel L -->
<text transform="translate(64,1188) rotate(-90)" text-anchor="middle" class="t">Relative LUC/REN activity</text>
<g stroke="#222" stroke-width="1">
<rect x="110" y="1272.3" width="17.5" height="1.7" fill="#aaaaaa"/>
<rect x="138.2" y="1212.9" width="17.5" height="61.1" fill="#a6bddb"/>
<rect x="164.2" y="1270.6" width="17.5" height="3.4" fill="#f1c35c"/>
<rect x="191.2" y="1211.2" width="17.5" height="62.8" fill="#a6bddb"/>
<rect x="218.8" y="1259.4" width="17.5" height="14.6" fill="#f1c35c"/>
<rect x="246.2" y="1251.6" width="17.5" height="22.4" fill="#a6bddb"/>
<rect x="273.2" y="1256.8" width="17.5" height="17.2" fill="#f1c35c"/>
</g>
<g fill="#666">
<circle cx="113" cy="1273" r="2.6"/><circle cx="117" cy="1272" r="2.6"/><circle cx="121" cy="1271" r="2.6"/><circle cx="124" cy="1273" r="2.6"/><circle cx="116" cy="1274" r="2.6"/><circle cx="120" cy="1270.5" r="2.6"/>
<circle cx="146" cy="1200" r="2.6"/><circle cx="141" cy="1205.2" r="2.6"/><circle cx="151" cy="1208.6" r="2.6"/><circle cx="145" cy="1214" r="2.6"/><circle cx="148" cy="1224" r="2.6"/><circle cx="147" cy="1232.7" r="2.6"/>
<circle cx="169" cy="1270.6" r="2.6"/><circle cx="173" cy="1270" r="2.6"/><circle cx="177" cy="1271" r="2.6"/>
<circle cx="200" cy="1201.8" r="2.6"/><circle cx="195" cy="1215.5" r="2.6"/><circle cx="204" cy="1217.2" r="2.6"/>
<circle cx="227" cy="1245.6" r="2.6"/><circle cx="222" cy="1251.6" r="2.6"/><circle cx="232" cy="1253.4" r="2.6"/><circle cx="224" cy="1258.5" r="2.6"/><circle cx="231" cy="1260.2" r="2.6"/><circle cx="225" cy="1268.8" r="2.6"/><circle cx="230" cy="1270.6" r="2.6"/>
<circle cx="251" cy="1249.9" r="2.6"/><circle cx="259" cy="1250.8" r="2.6"/><circle cx="256" cy="1253.4" r="2.6"/><circle cx="254" cy="1255" r="2.6"/><circle cx="261" cy="1251.6" r="2.6"/>
<circle cx="285" cy="1239.6" r="2.6"/><circle cx="281" cy="1244.8" r="2.6"/><circle cx="276" cy="1256.8" r="2.6"/><circle cx="288" cy="1260.2" r="2.6"/><circle cx="280" cy="1258.5" r="2.6"/><circle cx="284" cy="1265.4" r="2.6"/><circle cx="290" cy="1255" r="2.6"/>
</g>
<g stroke="#111" stroke-width="1.2" fill="none">
<path d="M147 1200V1225.8M143 1200H151M143 1225.8H151"/>
<path d="M200 1201.8V1219M196 1201.8H204M196 1219H204"/>
<path d="M227.6 1249V1269.7M223.6 1249H231.6M223.6 1269.7H231.6"/>
<path d="M255 1249V1255M251 1249H259M251 1255H259"/>
<path d="M282 1245.6V1267.1M278 1245.6H286M278 1267.1H286"/>
<line x1="102" y1="1102" x2="102" y2="1274"/><line x1="102" y1="1274" x2="302" y2="1274"/>
<path d="M98 1274H102M98 1231H102M98 1188H102M98 1145H102M98 1102H102"/>
<path d="M118.7 1274V1278M147 1274V1278M173 1274V1278M200 1274V1278M227.6 1274V1278M255 1274V1278M282 1274V1278"/>
<path d="M144 1180H175M196.5 1180H226.5M253 1230H282" stroke-width="1.4"/>
</g>
<g class="t" text-anchor="end"><text x="96" y="1279">0</text><text x="96" y="1236">2.5</text><text x="96" y="1193">5</text><text x="96" y="1150">7.5</text><text x="96" y="1107">10</text></g>
<g class="t" text-anchor="middle"><text x="157" y="1174">&lt;0.0001</text><text x="224.5" y="1174">&lt;0.0001</text><text x="268" y="1225">0.4069</text></g>
<g class="s" text-anchor="end">
<text transform="translate(123,1284) rotate(-50)">EV</text>
<text transform="translate(151,1284) rotate(-50)">Hap1-2k</text>
<text transform="translate(177,1284) rotate(-50)">Hap2-2k</text>
<text transform="translate(204,1284) rotate(-50)">Hap1-1k</text>
<text transform="translate(232,1284) rotate(-50)">Hap2-1k</text>
<text transform="translate(259,1284) rotate(-50)">Hap1-0.5k</text>
<text transform="translate(286,1284) rotate(-50)">Hap2-0.5k</text>
</g>

<!-- Panel N -->
<text transform="translate(369,1188) rotate(-90)" text-anchor="middle" class="t">Relative LUC/REN activity</text>
<g stroke="#222" stroke-width="1">
<rect x="420" y="1273.6" width="24" height="1.4" fill="#aaaaaa"/>
<rect x="458" y="1156" width="26" height="119" fill="#a6bddb"/>
<rect x="492.7" y="1271.6" width="24" height="3.4" fill="#f1c35c"/>
<rect x="526" y="1272.2" width="24" height="2.8" fill="#a6bddb"/>
<rect x="562" y="1235.9" width="24" height="39.1" fill="#f1c35c"/>
</g>
<g fill="#666">
<circle cx="425" cy="1273.6" r="2.6"/><circle cx="430" cy="1273.6" r="2.6"/><circle cx="435" cy="1273.6" r="2.6"/><circle cx="440" cy="1273.6" r="2.6"/>
<circle cx="469" cy="1137.6" r="2.6"/><circle cx="467" cy="1156" r="2.6"/><circle cx="473" cy="1158" r="2.6"/><circle cx="469" cy="1177.3" r="2.6"/>
<circle cx="505" cy="1264" r="2.6"/><circle cx="501" cy="1269.3" r="2.6"/><circle cx="508" cy="1272.2" r="2.6"/><circle cx="503" cy="1273.6" r="2.6"/><circle cx="510" cy="1274.4" r="2.6"/>
<circle cx="533" cy="1270.5" r="2.6"/><circle cx="537" cy="1271.6" r="2.6"/><circle cx="541" cy="1272.2" r="2.6"/><circle cx="544" cy="1272.7" r="2.6"/><circle cx="536" cy="1273.6" r="2.6"/>
<circle cx="575" cy="1212.7" r="2.6"/><circle cx="571" cy="1226.8" r="2.6"/><circle cx="579" cy="1232.5" r="2.6"/><circle cx="570" cy="1238.2" r="2.6"/><circle cx="579" cy="1242.4" r="2.6"/><circle cx="574" cy="1248" r="2.6"/><circle cx="577" cy="1252.3" r="2.6"/>
</g>
<g stroke="#111" stroke-width="1.2" fill="none">
<path d="M471 1139V1173M466 1139H476M466 1173H476"/>
<path d="M504.7 1268.8V1274.2M500.7 1268.8H508.7"/>
<path d="M538 1270.5V1273.6M534 1270.5H542"/>
<path d="M574 1222V1249.5M569 1222H579M569 1249.5H579"/>
<line x1="408.6" y1="1105" x2="408.6" y2="1275"/><line x1="408.6" y1="1275" x2="599" y2="1275"/>
<path d="M404.6 1275H408.6M404.6 1218.3H408.6M404.6 1161.7H408.6M404.6 1105H408.6"/>
<path d="M432 1275V1279M471 1275V1279M504.7 1275V1279M538 1275V1279M574 1275V1279"/>
<path d="M459 1126H504M539 1207H576" stroke-width="1.4"/>
</g>
<g class="t" text-anchor="end"><text x="402" y="1280">0</text><text x="402" y="1223.3">20</text><text x="402" y="1166.7">40</text><text x="402" y="1110">60</text></g>
<g class="t" text-anchor="middle"><text x="488" y="1122">&lt;0.0001</text><text x="560" y="1203">&lt;0.0001</text></g>
<g class="s" text-anchor="end">
<text transform="translate(437,1285) rotate(-50)">EV</text>
<text transform="translate(476,1285) rotate(-50)">Hap1-2k</text>
<text transform="translate(510,1285) rotate(-50)">Hap1-2k<tspan font-size="9" dy="-6">Mut</tspan></text>
<text transform="translate(543,1285) rotate(-50)">Hap2-2k</text>
<text transform="translate(579,1285) rotate(-50)">Hap2-2k<tspan font-size="9" dy="-6">Mut</tspan></text>
</g>

<!-- Panel O -->
<rect x="717" y="1093" width="511" height="194" fill="url(#gb)"/>
<rect x="921" y="1093" width="52" height="194" fill="url(#gp)"/>
<g fill="none" stroke-width="2.5" stroke-linejoin="round">
<polyline stroke="#6aa6dc" points="719.5,1282.1 727.7,1277.3 737.8,1254.7 747.9,1222.3 758.1,1181.9 768.3,1125.3 773.3,1114 778.4,1117.2 788.5,1125.3 798.7,1136.6 808.9,1131.8 819,1136.6 829.2,1133.4 839.3,1125.3 844.4,1123.7 849.5,1133.4 859.6,1165.7 869.8,1198.1 879.9,1217.5 890.1,1223.9 895.1,1222.3 900.2,1206.2 905.3,1190 910.4,1180.3 915.4,1186.7 920.5,1206.2 925.6,1198.1 930.7,1165.7 935.7,1141.5 940.8,1152.8 945.9,1190 950.9,1193.2 961.1,1186.7 971.3,1193.2 981.4,1230.4 991.6,1251.4 996.6,1246.6 1001.7,1214.2 1011.9,1201.3 1022,1198.1 1027.1,1201.3 1032.2,1209.4 1042.3,1193.2 1047.4,1198.1 1052.5,1214.2 1062.6,1202.9 1072.8,1209.4 1082.9,1202.9 1088,1198.1 1093.1,1214.2 1103.2,1238.5 1113.4,1246.6 1123.5,1241.7 1133.7,1246.6 1143.8,1246.6 1154,1241.7 1164.1,1225.6 1169.2,1219.1 1174.3,1230.4 1184.4,1230.4 1194.6,1246.6 1204.7,1254.7 1214.9,1257.9 1225,1267.6"/>
<polyline stroke="#f39800" points="745.9,1277.3 753,1261.1 760.1,1257.9 765.2,1222.3 770.3,1190 775.4,1181.9 783.5,1183.5 793.6,1190 803.8,1190 813.9,1198.1 821,1194.8 829.2,1214.2 837.3,1230.4 844.4,1225.6 849.5,1214.2 854.5,1219.1 861.6,1222.3 869.8,1225.6 874.8,1238.5 881.9,1241.7 887,1246.6 892.1,1254.7 900.2,1254.7 908.3,1262.7 915.4,1262.7 920.5,1282.1 930.7,1285.4 940.8,1283.8 951,1285.4 961.1,1283.8 971.3,1282.1 981.4,1277.3 991.6,1270.8 1001.7,1246.6 1011.9,1206.2 1022,1190 1027.1,1193.2 1032.2,1206.2 1037.2,1181.9 1042.3,1162.5 1047.4,1190 1052.5,1198.1 1057.5,1206.2 1062.6,1222.3 1072.8,1225.6 1077.8,1214.2 1082.9,1190 1088,1222.3 1093.1,1230.4 1103.2,1233.6 1113.4,1254.7 1123.5,1254.7 1128.6,1251.4 1133.7,1262.7 1143.8,1267.6 1154,1262.7 1164.1,1228.8 1169.2,1225.6 1174.3,1232 1184.4,1245 1194.6,1249.8 1204.7,1251.4 1214.9,1257.9 1225,1270.8"/>
</g>
<g stroke="#111" stroke-width="1.2" fill="none">
<line x1="717" y1="1093" x2="717" y2="1287"/><line x1="717" y1="1287" x2="1228" y2="1287"/>
<path d="M713 1287H717M713 1254.7H717M713 1222.3H717M713 1190H717M713 1157.6H717M713 1125.3H717M713 1093H717"/>
<path d="M717.5 1287V1291M819 1287V1291M920.5 1287V1291M1022 1287V1291M1123.5 1287V1291M1225 1287V1291"/>
</g>
<polygon points="1022,1276 1083,1276 1093,1283 1083,1290 1022,1290" fill="#ffc95c"/>
<text x="1052" y="1288" text-anchor="middle" font-size="14" class="i">GAME9</text>
<text x="1003" y="1265" font-size="14" class="i" fill="#f5a623">ATG</text>
<text x="1083" y="1265" font-size="14" class="i" fill="#f5a623">TAG</text>
<g class="s" text-anchor="end"><text x="707" y="1292">0</text><text x="707" y="1259.7">2</text><text x="707" y="1227.3">4</text><text x="707" y="1195">6</text><text x="707" y="1162.6">8</text><text x="707" y="1130.3">10</text><text x="707" y="1098">12</text></g>
<g class="s" text-anchor="middle"><text x="720" y="1306">-3</text><text x="819" y="1306">-2</text><text x="921" y="1306">-1</text><text x="1022" y="1306">0</text><text x="1124" y="1306">1</text><text x="1229" y="1306">2 kb</text></g>
<text transform="translate(688,1190) rotate(-90)" text-anchor="middle" font-size="13">π (×10<tspan font-size="9" dy="-5">-3</tspan><tspan dy="5">)</tspan></text>
<line x1="1118" y1="1108" x2="1135" y2="1108" stroke="#6aa6dc" stroke-width="2.5"/>
<text x="1140" y="1113" class="t i">BUK</text>
<line x1="1118" y1="1135" x2="1135" y2="1135" stroke="#f39800" stroke-width="2.5"/>
<text x="1140" y="1140" class="t">Landrace</text>
</svg>
</body></html>
